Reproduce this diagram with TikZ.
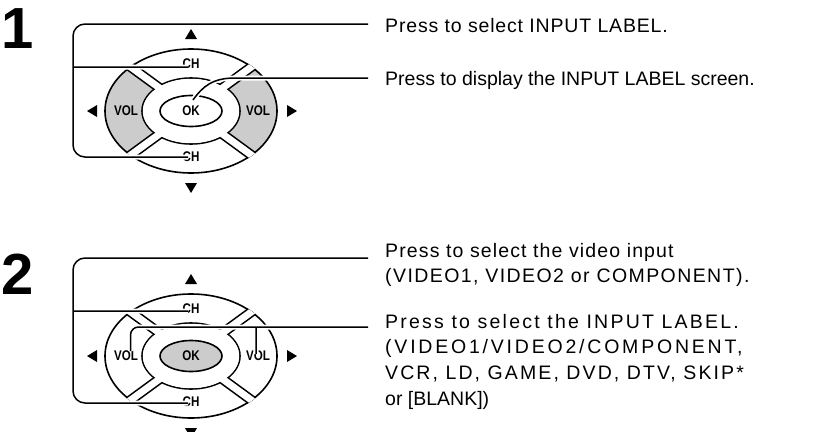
\documentclass[tikz,border=0pt]{standalone}
\usepackage{fontspec}
\setmainfont{Liberation Sans}
\definecolor{padgrey}{RGB}{204,204,204}
\newcommand{\lsp}[2]{{\addfontfeature{LetterSpace=#1}#2}}
\tikzset{
  padline/.style={line width=1.6pt},
  leader/.style={line width=1.5pt, preaction={draw=white, line width=5pt}},
  desc/.style={anchor=north west, inner sep=0pt, align=left, font=\fontsize{19.5}{25.6}\selectfont},
  bignum/.style={anchor=base west, inner sep=0pt, font=\fontsize{58}{58}\selectfont\bfseries},
  padtxt/.style={inner sep=0pt, font=\fontsize{14}{14}\selectfont\bfseries},
  arrowtri/.style={fill=black},
}
\newcommand{\dpad}[4]{%
  \begin{scope}[shift={#2}]
    \begin{scope}
      \clip (0,0) ellipse [x radius=86, y radius=62];
      \fill[#3] (0,0) -- (-130,-95) -- (-130,95) -- cycle;
      \fill[#3] (0,0) -- (130,-95) -- (130,95) -- cycle;
    \end{scope}
    \draw[padline] (0,0) ellipse [x radius=86, y radius=62];
    \draw[padline] (0,0) ellipse [x radius=49, y radius=33];
    \begin{scope}
      \clip (0,0) ellipse [x radius=86.8, y radius=62.8];
      \draw[line width=10.2pt] (-130,-95) -- (130,95) (-130,95) -- (130,-95);
      \draw[white, line width=7pt] (-130,-95) -- (130,95) (-130,95) -- (130,-95);
    \end{scope}
    \fill[white] (0,0) ellipse [x radius=48.2, y radius=32.2];
    \draw[padline, fill=#4] (0,0) ellipse [x radius=31, y radius=15.5];
    \node[padtxt] (#1ok) at (0,-0.5) {\scalebox{0.83}[1]{OK}};
    \node[padtxt] (#1vl) at (-65,-0.5) {\scalebox{0.83}[1]{VOL}};
    \node[padtxt] (#1vr) at (67,-0.5) {\scalebox{0.83}[1]{VOL}};
    \node[padtxt] (#1cht) at (0,-47) {\scalebox{0.83}[1]{CH}};
    \node[padtxt] (#1chb) at (0,46) {\scalebox{0.83}[1]{CH}};
    \fill[arrowtri] (-6,-72) -- (6,-72) -- (0,-82) -- cycle;
    \fill[arrowtri] (-6,72) -- (6,72) -- (0,82) -- cycle;
    \fill[arrowtri] (-94,-6) -- (-94,6) -- (-104,0) -- cycle;
    \fill[arrowtri] (96,-6) -- (96,6) -- (106,0) -- cycle;
  \end{scope}}
\begin{document}
\begin{tikzpicture}[x=1pt,y=-1pt]
\useasboundingbox (0,0) rectangle (816,431);
\node[bignum] (n1) at (1,48) {1};
\node[bignum] (n2) at (1.5,294) {2};
\dpad{p1}{(191,111)}{padgrey}{white}
\dpad{p2}{(191,356)}{white}{padgrey}
% texts
\node[desc] (t1a) at (385,14.15) {\strut\lsp{4.3}{Press to select INPUT LABEL.}};
\node[desc] (t1b) at (385,67.15) {\strut Press to display the INPUT LABEL screen.};
\node[desc] (t2a) at (385,239.15) {\strut\lsp{5.8}{Press to select the video input}\\\strut\lsp{7.3}{(VIDEO1, VIDEO2 or COMPONENT).}};
\node[desc] (t2b) at (385,310.15) {\strut\lsp{11.4}{Press to select the INPUT LABEL.}\\\strut\lsp{14.3}{(VIDEO1/VIDEO2/COMPONENT,}\\\strut\lsp{10.8}{VCR, LD, GAME, DVD, DTV, SKIP*}\\\strut or [BLANK])};
% panel 1 leaders
\coordinate (e1a) at (368,24);
\coordinate (k1t) at (188,67);
\coordinate (k1b) at (188,157);
\draw[leader, rounded corners=12pt] (e1a) -- (73,24) -- (73,157) -- (k1b) (73,67) -- (k1t);
\coordinate (s1) at (193,100);
\coordinate (e1b) at (368,78);
\draw[leader] (s1) .. controls (203,86) and (213,78) .. (235,78) -- (e1b);
% panel 2 leaders
\coordinate (e2a) at (368,258);
\coordinate (k2t) at (188,311);
\coordinate (k2b) at (188,403);
\draw[leader, rounded corners=12pt] (e2a) -- (73,258) -- (73,403) -- (k2b) (73,311) -- (k2t);
\coordinate (s2l) at (130.5,351);
\coordinate (s2r) at (256,354);
\coordinate (e2b) at (368,327);
\draw[leader, rounded corners=8pt] (s2l) -- (s2l |- e2b) -- (e2b) (s2r |- e2b) -- (s2r);
\end{tikzpicture}
\end{document}
